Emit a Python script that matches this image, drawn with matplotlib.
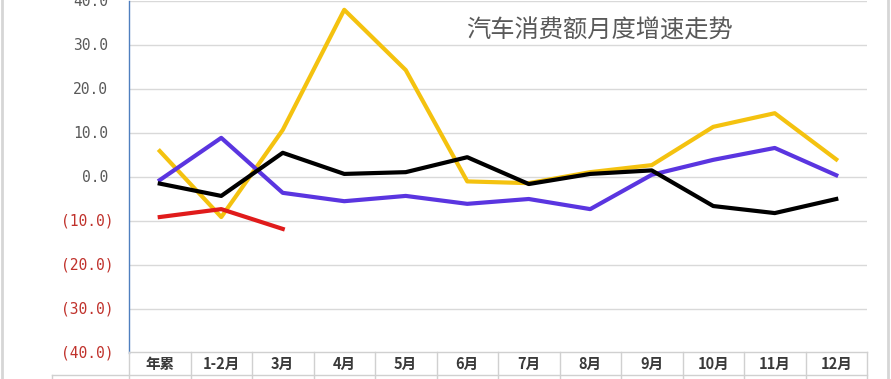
import matplotlib
matplotlib.use("Agg")
import matplotlib.pyplot as plt
from matplotlib.lines import Line2D
from matplotlib.transforms import blended_transform_factory

plt.rcParams['font.family'] = ['Noto Sans CJK SC', 'DejaVu Sans']

# ── data ────────────────────────────────────────────
categories = ["年累", "1-2月", "3月", "4月", "5月", "6月", "7月", "8月", "9月", "10月", "11月", "12月"]
yellow = [5.9, -9.1, 10.7, 38.0, 24.3, -1.0, -1.4, 1.1, 2.7, 11.4, 14.5, 4.0]
purple = [-0.7, 8.9, -3.6, -5.5, -4.3, -6.1, -5.0, -7.3, 0.5, 3.9, 6.6, 0.4]
black = [-1.5, -4.3, 5.5, 0.7, 1.1, 4.5, -1.6, 0.7, 1.5, -6.6, -8.2, -5.0]
red = [-9.1, -7.3, -11.8]
yticks = [40, 30, 20, 10, 0, -10, -20, -30, -40]
title = "汽车消费额月度增速走势"

W, H = 891, 379
fig = plt.figure(figsize=(W / 100, H / 100), dpi=100)
ax = fig.add_axes([129 / W, 1 - 353 / H, (867 - 129) / W, (353 - 1) / H])

x = list(range(len(categories)))
ax.plot(x, yellow, color="#F4C20F", lw=3, solid_joinstyle="round", zorder=3)
ax.plot(x, purple, color="#5A35E0", lw=3, solid_joinstyle="round", zorder=4)
ax.plot(x, black, color="#000000", lw=3, solid_joinstyle="round", zorder=5)
ax.plot(x[:len(red)], red, color="#E01B1B", lw=3, solid_joinstyle="round", zorder=6)

ax.set_xlim(-0.5, len(categories) - 0.5)
ax.set_ylim(-40, 40)
ax.set_yticks(yticks)
ax.yaxis.grid(True, color="#D9D9D9", lw=1)
ax.set_axisbelow(True)
ax.tick_params(length=0, labelleft=False, labelbottom=False)
for s in ["top", "right", "bottom"]:
    ax.spines[s].set_visible(False)
ax.spines["left"].set_color("#4F7FBF")
ax.spines["left"].set_linewidth(1)

# y tick labels, Excel style: 0.0_);(0.0)
ytr = ax.get_yaxis_transform()
mono = ["DejaVu Sans Mono"]
for v in yticks:
    if v < 0:
        ax.text(-15 / 738, v, f"({abs(v):.1f})", color="#C0312B", fontsize=10.5, family=mono,
                ha="right", va="center", transform=ytr, clip_on=False)
    else:
        ax.text(-21 / 738, v, f"{v:.1f}", color="#595959", fontsize=10.5, family=mono,
                ha="right", va="center", transform=ytr, clip_on=False)

ax.text(599 / W, 1 - 31 / H, title, transform=fig.transFigure, fontsize=17.5,
        color="#595959", ha="center", va="center")

# category table under the plot
xtr = blended_transform_factory(ax.transData, fig.transFigure)
y_top = 1 - 352 / H
y_mid = 1 - 375 / H
for b in [i - 0.5 for i in range(len(categories) + 1)]:
    fig.add_artist(Line2D([b, b], [0, y_top], transform=xtr, color="#D0D0D0", lw=1))
fig.add_artist(Line2D([129 / W, 867 / W], [y_top, y_top], transform=fig.transFigure, color="#D0D0D0", lw=1))
fig.add_artist(Line2D([52 / W, 867 / W], [y_mid, y_mid], transform=fig.transFigure, color="#D0D0D0", lw=1))
fig.add_artist(Line2D([52 / W, 52 / W], [0, y_mid], transform=fig.transFigure, color="#D0D0D0", lw=1))
for i, c in enumerate(categories):
    fig.text(i, 1 - 364 / H, c, transform=xtr, ha="center", va="center",
             fontsize=10.5, fontweight="bold", color="#3A3A3A")

# outer frame edges
fig.add_artist(Line2D([2 / W, 2 / W], [0, 1], transform=fig.transFigure, color="#D6D6D6", lw=2))
fig.add_artist(Line2D([888 / W, 888 / W], [0, 1], transform=fig.transFigure, color="#D6D6D6", lw=2))

fig.savefig("out.png", dpi=100)
